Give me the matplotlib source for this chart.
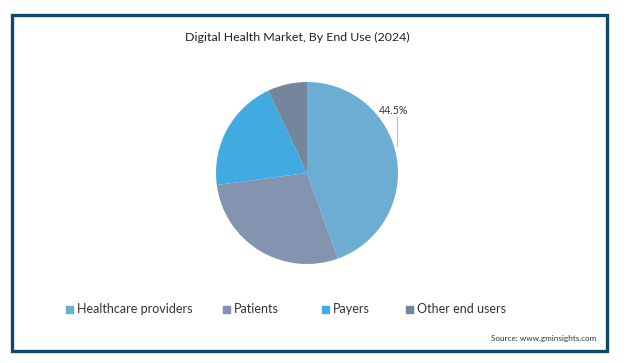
import numpy as np
import matplotlib.pyplot as plt
from matplotlib.patches import Rectangle

plt.rcParams['font.family'] = ['Lato', 'DejaVu Sans']

labels = ['Healthcare providers', 'Patients', 'Payers', 'Other end users']
shares = [44.5, 28.4, 20.1, 7.0]
colors = ['#6caed3', '#8294b0', '#40aae1', '#73869b']

W, H = 631, 363
fig = plt.figure(figsize=(W / 100, H / 100), dpi=100)
fig.patch.set_facecolor('white')

# dark frame around the card
fig.patches.append(Rectangle((12 / W, 1 - 351 / H), 595 / W, 336 / H,
                             transform=fig.transFigure, fill=False,
                             edgecolor='#0e4a68', linewidth=2.4))

fig.text(297 / W, 1 - 37 / H, 'Digital Health Market, By End Use (2024)',
         ha='center', va='center', fontsize=8.9, color='#222222')

# pie: centre (307,174), radius ~91 px
r = 91
ax = fig.add_axes([(307 - r) / W, 1 - (173 + r) / H, 2 * r / W, 2 * r / H])
wedges, _ = ax.pie(shares, colors=colors, startangle=90, counterclock=False,
                   radius=1.0, wedgeprops=dict(linewidth=0))
ax.set_xlim(-1, 1)
ax.set_ylim(-1, 1)
ax.set_aspect('auto')
ax.axis('off')

# label for the largest slice with a leader line
lx = (397 - 307) / r
ax.plot([lx, lx], [(174 - 118) / r, (174 - 147) / r], color='#bbbbbb',
        lw=0.8, clip_on=False)
ax.text((394 - 307) / r, (174 - 112) / r, f'{shares[0]}%', ha='center',
        va='center', fontsize=7.6, color='#333333', clip_on=False)

# legend row
xs = [66, 223, 322, 406]
for x, lab, c in zip(xs, labels, colors):
    fig.patches.append(Rectangle((x / W, 1 - 313 / H), 7 / W, 7 / H,
                                 transform=fig.transFigure, color=c))
    fig.text((x + 11) / W, 1 - 309 / H, lab, ha='left', va='center',
             fontsize=9.0, color='#333333')

fig.text(596 / W, 1 - 339 / H, 'Source: www.gminsights.com', ha='right',
         va='center', fontsize=5.9, color='#333333')

fig.savefig('out.png', dpi=100)
